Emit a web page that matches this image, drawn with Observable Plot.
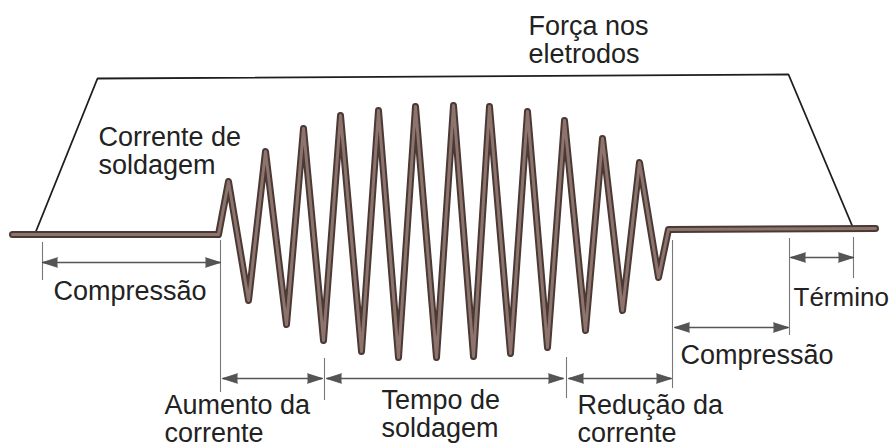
<!DOCTYPE html>
<html><head><meta charset="utf-8">
<script src="https://cdn.jsdelivr.net/npm/d3@7"></script>
<script src="https://cdn.jsdelivr.net/npm/@observablehq/plot@0.6"></script>
<style>html,body{margin:0;padding:0;background:#fff;overflow:hidden}</style>
</head><body><div id="chart"></div>
<script>
// Welding current waveform (time position, level; y grows downward)
const currentT = [12, 218, 228, 248, 265, 286, 303, 323, 340, 361, 378, 398, 415, 436, 453, 473, 489, 510, 527, 547, 564, 585, 602, 622, 639, 658, 668, 875];
const currentY = [234, 234, 181, 300, 151, 324, 128, 340, 115, 351, 110, 357, 106, 357, 105, 356, 106, 353, 111, 347, 120, 330, 138, 310, 162, 277, 229, 228];

// Electrode force trapezoid
const forceT = [35, 97, 788, 852];
const forceY = [232, 78, 74, 226];

// Dimension arrows (phases)
const phaseNames = ["Compressão", "Aumento da corrente", "Tempo de soldagem", "Redução da corrente", "Compressão final", "Término"];
const phaseStart = [42, 222, 326, 568, 674, 790];
const phaseEnd   = [220, 322, 563, 671, 788, 853];
const phaseLevel = [262, 378, 378, 378, 327, 257];

// Extension / divider lines
const guideX   = [42, 220, 324, 566, 672, 789, 853];
const guideTop = [242, 240, 358, 357, 240, 238, 237];
const guideBot = [280, 392, 400, 398, 388, 335, 278];

// Labels
const labelText = ["Força nos\neletrodos", "Corrente de\nsoldagem", "Compressão", "Término", "Compressão", "Aumento da\ncorrente", "Tempo de\nsoldagem", "Redução da\ncorrente"];
const labelX = [528, 98, 53, 793, 680, 164, 381, 577];
const labelY = [62, 173, 299, 305, 363, 441, 436, 441];
const labelSize = [27, 27, 27, 26, 27, 27, 27, 27];

const current = currentT.map((t, i) => ({t, v: currentY[i]}));
const force = forceT.map((t, i) => ({t, v: forceY[i]}));
const phases = phaseNames.map((n, i) => ({n, x1: phaseStart[i], x2: phaseEnd[i], y: phaseLevel[i]}));
const heads = phases.flatMap(p => [{x: p.x1, y: p.y, r: -90}, {x: p.x2, y: p.y, r: 90}]);
const guides = guideX.map((x, i) => ({x, y1: guideTop[i], y2: guideBot[i]}));
const labels = labelText.map((text, i) => ({text, x: labelX[i], y: labelY[i], s: labelSize[i]}));

const chart = Plot.plot({
  width: 893,
  height: 448,
  margin: 0,
  x: {domain: [0, 893], range: [0, 893], axis: null},
  y: {domain: [0, 448], range: [0, 448], axis: null},
  style: {background: "#fff", fontFamily: "'Liberation Sans', Arial, sans-serif"},
  marks: [
    Plot.line(force, {x: "t", y: "v", stroke: "#1e1e1e", strokeWidth: 1.8, strokeLinejoin: "miter"}),
    Plot.ruleX(guides, {x: "x", y1: "y1", y2: "y2", stroke: "#777", strokeWidth: 1.1}),
    Plot.link(phases, {x1: "x1", x2: "x2", y1: "y", y2: "y", stroke: "#555", strokeWidth: 1.4}),
    Plot.vector(heads, {x: "x", y: "y", rotate: "r", length: 15, r: 4.8, shape: "spike", anchor: "end", fill: "#555", stroke: "#3a3a3a", strokeWidth: 0.7}),
    Plot.line(current, {x: "t", y: "v", stroke: "#4a3935", strokeWidth: 7, strokeLinejoin: "round", strokeLinecap: "round"}),
    Plot.line(current, {x: "t", y: "v", stroke: "#8d746d", strokeWidth: 3, strokeLinejoin: "round", strokeLinecap: "round"}),
    Plot.text(labels, {x: "x", y: "y", text: "text", textAnchor: "start", lineAnchor: "bottom", fontSize: "s", lineHeight: 1.03, fill: "#222"})
  ]
});
document.getElementById("chart").appendChild(chart);
</script></body></html>
